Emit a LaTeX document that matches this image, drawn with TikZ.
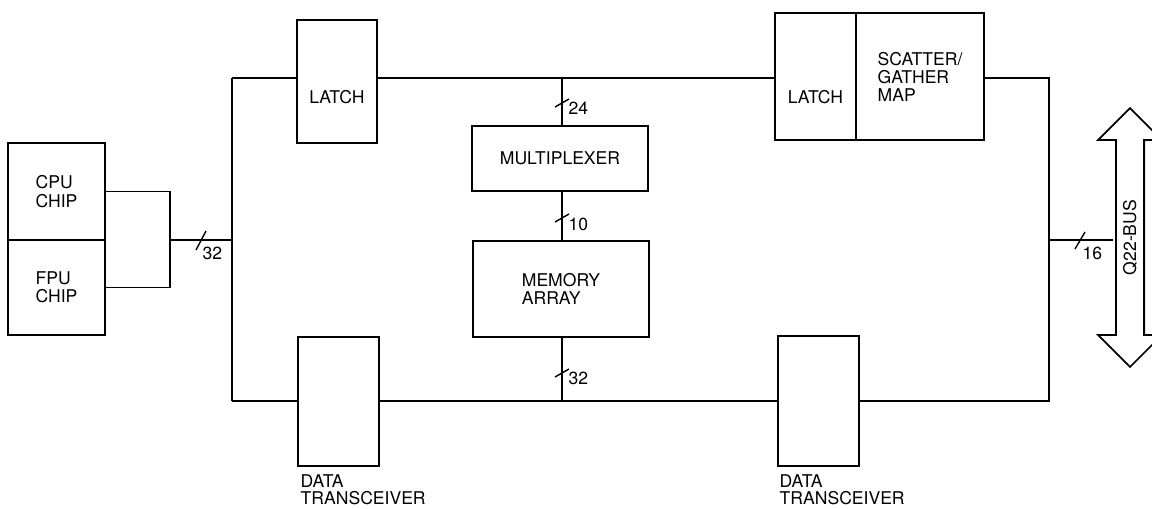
\documentclass[tikz,border=0pt]{standalone}
\usepackage{fontspec}
\setmainfont{TeX Gyre Heros}
\usetikzlibrary{shapes.arrows}
\begin{document}
\begin{tikzpicture}[x=0.02cm,y=-0.02cm,line width=0.8pt,every node/.style={font=\fontsize{10}{10.4}\selectfont},blk/.style={draw,line width=1pt,inner sep=0pt,align=left},txt/.style={inner sep=0pt,align=left},wid/.style={inner sep=0pt,anchor=north west,align=left}]
\useasboundingbox (0,0) rectangle (1152,508);
\node[blk,minimum width=1.94cm,minimum height=1.94cm] (cpu) at (56.5,191.5) {CPU\\CHIP};
\node[blk,minimum width=1.94cm,minimum height=1.9cm] (fpu) at (56.5,287.5) {FPU\\CHIP};
\node[blk,minimum width=1.6cm,minimum height=2.46cm] (latchA) at (337,81.5) {};
\node[txt] (latchAt) at (337,97) {LATCH};
\node[blk,minimum width=1.62cm,minimum height=2.54cm] (latchB) at (815.5,76.5) {};
\node[txt] (latchBt) at (815.5,97) {LATCH};
\node[blk,minimum width=2.56cm,minimum height=2.54cm] (sgmap) at (920,76.5) {};
\node[txt,anchor=west] (sgmapt) at (877,77) {SCATTER/\\GATHER\\MAP};
\node[blk,minimum width=3.52cm,minimum height=1.3cm] (mux) at (560,158.5) {MULTIPLEXER};
\node[blk,minimum width=3.52cm,minimum height=1.92cm] (mem) at (561,289) {MEMORY\\ARRAY};
\node[blk,minimum width=1.62cm,minimum height=2.58cm] (xcvrA) at (338.5,401.5) {};
\node[wid,font=\fontsize{10}{9.6}\selectfont] (xcvrAt) at (300,474) {DATA\\TRANSCEIVER};
\node[blk,minimum width=1.62cm,minimum height=2.6cm] (xcvrB) at (818.5,401) {};
\node[wid,font=\fontsize{10}{9.6}\selectfont] (xcvrBt) at (779,474) {DATA\\TRANSCEIVER};
\node[double arrow,draw,line width=1pt,rotate=90,minimum height=5.18cm,minimum width=1.28cm,double arrow head extend=0.29cm,inner sep=2pt] (qbus) at (1130,237.5) {Q22-BUS};
% bus corners
\coordinate (tl) at (232,78);
\coordinate (bl) at (232,401);
\coordinate (tr) at (1049,78);
\coordinate (br) at (1049,401);
\coordinate (jn) at (170,240);
\coordinate (tm) at (562,78);
\coordinate (bm) at (562,401);
\coordinate (rj) at (1049,240);
\coordinate (qin) at (1113,240);
\draw (cpu.east) -- (jn |- cpu.east) -- (jn |- fpu.east) -- (fpu.east);
\draw (jn) -- (tl |- jn);
\draw (tl) -- (bl);
\draw (tl) -- (tl -| latchA.west);
\draw (tl -| latchA.east) -- (tl -| latchB.west);
\draw (tl -| sgmap.east) -- (tr) -- (br) -- (br -| xcvrB.east);
\draw (bl) -- (bl -| xcvrA.west);
\draw (bl -| xcvrA.east) -- (bl -| xcvrB.west);
\draw (tm) -- (tm |- mux.north);
\draw (tm |- mux.south) -- (tm |- mem.north);
\draw (tm |- mem.south) -- (bm);
\draw (rj) -- (qin);
% bus widths
\draw (jn) ++(31,0) +(-5,10) -- +(5,-9);
\node[wid] (w32a) at (202,246) {32};
\draw (tm) ++(0,25) +(-7,4) -- +(7,-4);
\node[txt,anchor=west] (w24) at (568,108) {24};
\draw (tm) ++(0,140) +(-7,4) -- +(7,-4);
\node[txt,anchor=west] (w10) at (568,224) {10};
\draw (bm) ++(0,-28) +(-7,4) -- +(7,-4);
\node[txt,anchor=west] (w32b) at (568,378) {32};
\draw (rj) ++(31,0) +(-5,9) -- +(5,-8);
\node[wid] (w16) at (1082,246) {16};
\end{tikzpicture}
\end{document}
